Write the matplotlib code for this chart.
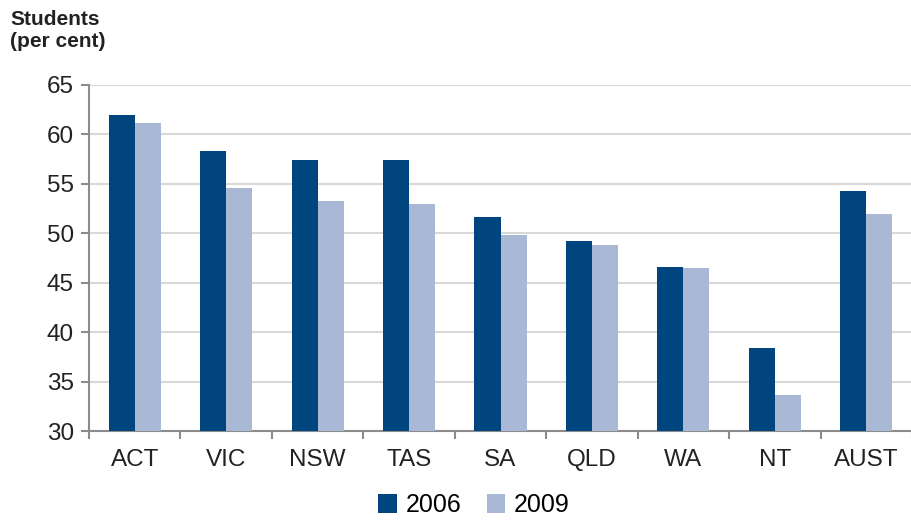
import numpy as np
import matplotlib.pyplot as plt

plt.rcParams['font.family'] = ['Liberation Sans', 'DejaVu Sans']

# data
states = ['ACT', 'VIC', 'NSW', 'TAS', 'SA', 'QLD', 'WA', 'NT', 'AUST']
y2006 = [62.0, 58.3, 57.4, 57.4, 51.6, 49.2, 46.6, 38.4, 54.3]
y2009 = [61.2, 54.6, 53.3, 53.0, 49.8, 48.8, 46.5, 33.6, 51.9]

dark = '#00457E'
light = '#A9B9D5'
axis_col = '#8C8C8C'

fig = plt.figure(figsize=(9.12, 5.21), dpi=100)
ax = fig.add_axes([0.0976, 0.1727, 0.9024, 0.6642])

x = np.arange(len(states))
w = 0.285
ax.bar(x - w/2, y2006, w, color=dark, label='2006', zorder=3)
ax.bar(x + w/2, y2009, w, color=light, label='2009', zorder=3)

ax.set_ylim(30, 65)
ax.set_xlim(-0.5, len(states) - 0.5)
ax.set_yticks(range(30, 66, 5))
ax.yaxis.grid(True, color='#D9D9D9', linewidth=1.5, zorder=0)

# category labels centred, ticks at the boundaries
ax.set_xticks(x)
ax.set_xticklabels(states)
ax.set_xticks(np.arange(-0.5, len(states)), minor=True)
ax.tick_params(axis='x', which='major', length=0, pad=13, labelsize=17.5, colors='#222222')
ax.tick_params(axis='x', which='minor', length=6, width=1.5, color=axis_col)
ax.tick_params(axis='y', length=6, width=1.5, color=axis_col, labelsize=17.5, labelcolor='#222222', pad=5)

for s in ['top', 'right']:
    ax.spines[s].set_visible(False)
for s in ['left', 'bottom']:
    ax.spines[s].set_color(axis_col)
    ax.spines[s].set_linewidth(1.5)

fig.text(0.011, 0.98, 'Students\n(per cent)', fontsize=15, fontweight='bold',
         va='top', ha='left', color='#222222', linespacing=1.2)

fig.legend(loc='lower center', bbox_to_anchor=(0.52, -0.036), ncol=2, frameon=False,
           fontsize=18, handlelength=0.75, handleheight=0.75, handletextpad=0.35, columnspacing=1.0)

fig.savefig('out.png', dpi=100)
